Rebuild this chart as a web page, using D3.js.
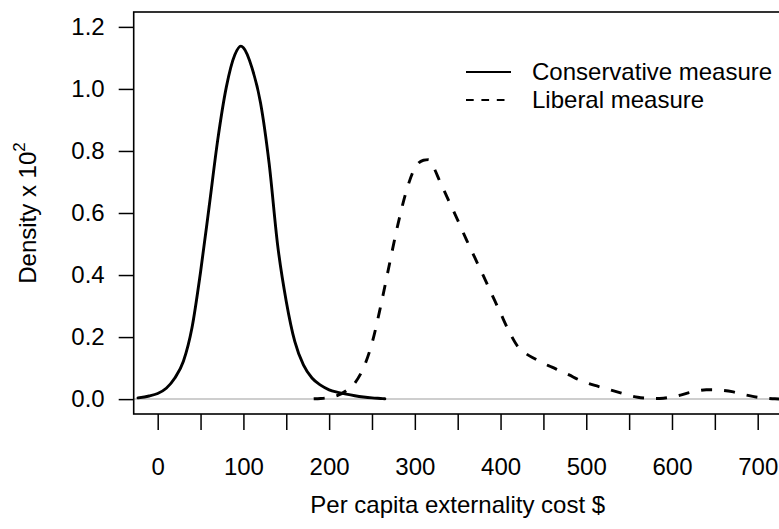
<!DOCTYPE html>
<html>
<head>
<meta charset="utf-8">
<script src="https://cdn.jsdelivr.net/npm/d3@7"></script>
<style>
  body { margin: 0; background: #fff; }
  text { font-family: "Liberation Sans", Arial, Helvetica, sans-serif; fill: #000; }
</style>
</head>
<body>
<svg id="chart" width="779" height="529"></svg>
<script>
// Kernel density estimates of per capita externality cost (density scaled by 10^2)
const conservativeX = [-23, -10, 0, 10, 20, 30, 40, 50, 60, 70, 80, 90, 97, 100, 110, 120,
  130, 140, 150, 160, 170, 180, 190, 200, 210, 220, 230, 240, 250, 260, 265];
const conservativeY = [0.004, 0.010, 0.018, 0.035, 0.068, 0.122, 0.230, 0.410, 0.620, 0.835,
  1.005, 1.110, 1.138, 1.133, 1.068, 0.955, 0.760, 0.495, 0.315, 0.185, 0.110, 0.068,
  0.045, 0.030, 0.022, 0.016, 0.011, 0.007, 0.004, 0.002, 0.001];

const liberalX = [182, 190, 200, 210, 220, 230, 240, 250, 260, 270, 280, 290, 300, 310, 316,
  320, 330, 340, 350, 360, 370, 380, 390, 400, 410, 420, 430, 440, 450, 460, 470, 480,
  490, 500, 510, 520, 530, 540, 550, 560, 570, 580, 590, 600, 610, 620, 630, 640, 650,
  660, 670, 680, 690, 700, 710, 720, 740, 760];
const liberalY = [0.001, 0.002, 0.005, 0.012, 0.027, 0.052, 0.100, 0.180, 0.298, 0.430,
  0.560, 0.670, 0.745, 0.770, 0.772, 0.757, 0.697, 0.637, 0.577, 0.515, 0.456, 0.397,
  0.337, 0.277, 0.218, 0.170, 0.146, 0.130, 0.115, 0.103, 0.090, 0.078, 0.064, 0.053,
  0.044, 0.036, 0.028, 0.020, 0.012, 0.006, 0.003, 0.002, 0.003, 0.007, 0.013, 0.021,
  0.027, 0.030, 0.030, 0.028, 0.024, 0.017, 0.011, 0.006, 0.003, 0.001, 0.000, 0.000];

const xTicks = [0, 50, 100, 150, 200, 250, 300, 350, 400, 450, 500, 550, 600, 650, 700];
const xTickLabels = ["0", "", "100", "", "200", "", "300", "", "400", "", "500", "", "600", "", "700"];
const yTicks = [0, 0.2, 0.4, 0.6, 0.8, 1.0, 1.2];
const yTickLabels = ["0.0", "0.2", "0.4", "0.6", "0.8", "1.0", "1.2"];
const seriesNames = ["Conservative measure", "Liberal measure"];
const xLabel = "Per capita externality cost $";
const yLabel = "Density x 10";
const yLabelPower = "2";

// plot region limits (xlim 0..700, ylim 0..1.2, each padded 4%)
const xLim = [0, 700], yLim = [0, 1.2];
const xPad = (xLim[1] - xLim[0]) * 0.04, yPad = (yLim[1] - yLim[0]) * 0.04;
const plot = { left: 133.7, right: 781.7, top: 12, bottom: 414 };

const svg = d3.select("#chart");
const fontSize = 24;

const x = d3.scaleLinear().domain([xLim[0] - xPad, xLim[1] + xPad]).range([plot.left, plot.right]);
const y = d3.scaleLinear().domain([yLim[0] - yPad, yLim[1] + yPad]).range([plot.bottom, plot.top]);

svg.append("defs").append("clipPath").attr("id", "plotClip")
  .append("rect")
  .attr("x", plot.left).attr("y", plot.top)
  .attr("width", plot.right - plot.left).attr("height", plot.bottom - plot.top);

const body = svg.append("g").attr("clip-path", "url(#plotClip)");

// zero reference line
body.append("line")
  .attr("x1", plot.left).attr("x2", plot.right)
  .attr("y1", y(0)).attr("y2", y(0))
  .attr("stroke", "#bebebe").attr("stroke-width", 1.5);

const line = d3.line()
  .x(d => x(d[0]))
  .y(d => y(d[1]))
  .curve(d3.curveMonotoneX);

body.append("path")
  .datum(d3.zip(conservativeX, conservativeY))
  .attr("d", line)
  .attr("fill", "none").attr("stroke", "#000")
  .attr("stroke-width", 2.9).attr("stroke-linejoin", "round").attr("stroke-linecap", "round");

body.append("path")
  .datum(d3.zip(liberalX, liberalY))
  .attr("d", line)
  .attr("fill", "none").attr("stroke", "#000")
  .attr("stroke-width", 2.9).attr("stroke-dasharray", "11,12")
  .attr("stroke-linejoin", "round");

// plot box
svg.append("rect")
  .attr("x", plot.left).attr("y", plot.top)
  .attr("width", plot.right - plot.left).attr("height", plot.bottom - plot.top)
  .attr("fill", "none").attr("stroke", "#000").attr("stroke-width", 1.6);

// x axis
const xAxis = svg.append("g")
  .attr("transform", `translate(0,${plot.bottom})`)
  .call(d3.axisBottom(x)
    .tickValues(xTicks)
    .tickFormat((d, i) => xTickLabels[i])
    .tickSizeInner(16).tickSizeOuter(0).tickPadding(28));
xAxis.select(".domain").remove();
xAxis.selectAll(".tick line").attr("stroke", "#000").attr("stroke-width", 1.5);
xAxis.selectAll(".tick text")
  .attr("font-size", fontSize)
  .attr("font-family", "'Liberation Sans', Arial, Helvetica, sans-serif")
  .attr("fill", "#000");

// y axis
const yAxis = svg.append("g")
  .attr("transform", `translate(${plot.left},0)`)
  .call(d3.axisLeft(y)
    .tickValues(yTicks)
    .tickFormat((d, i) => yTickLabels[i])
    .tickSizeInner(15).tickSizeOuter(0).tickPadding(14));
yAxis.select(".domain").remove();
yAxis.selectAll(".tick line").attr("stroke", "#000").attr("stroke-width", 1.5);
yAxis.selectAll(".tick text")
  .attr("font-size", fontSize)
  .attr("font-family", "'Liberation Sans', Arial, Helvetica, sans-serif")
  .attr("fill", "#000");

// axis titles
svg.append("text")
  .attr("x", (plot.left + plot.right) / 2).attr("y", 513)
  .attr("text-anchor", "middle").attr("font-size", fontSize)
  .text(xLabel);

const yTitle = svg.append("text")
  .attr("transform", `translate(36,${(plot.top + plot.bottom) / 2}) rotate(-90)`)
  .attr("text-anchor", "middle").attr("font-size", fontSize);
yTitle.append("tspan").text(yLabel);
yTitle.append("tspan").attr("font-size", 17).attr("dy", -11).text(yLabelPower);

// legend
const legendRows = [72, 100];
const legend = svg.append("g");
seriesNames.forEach((name, i) => {
  legend.append("line")
    .attr("x1", 466).attr("x2", 511)
    .attr("y1", legendRows[i]).attr("y2", legendRows[i])
    .attr("stroke", "#000").attr("stroke-width", 1.9)
    .attr("stroke-dasharray", i === 1 ? "7.7,7.7" : null);
  legend.append("text")
    .attr("x", 532).attr("y", legendRows[i]).attr("dy", "0.35em")
    .attr("font-size", fontSize)
    .text(name);
});
</script>
</body>
</html>
